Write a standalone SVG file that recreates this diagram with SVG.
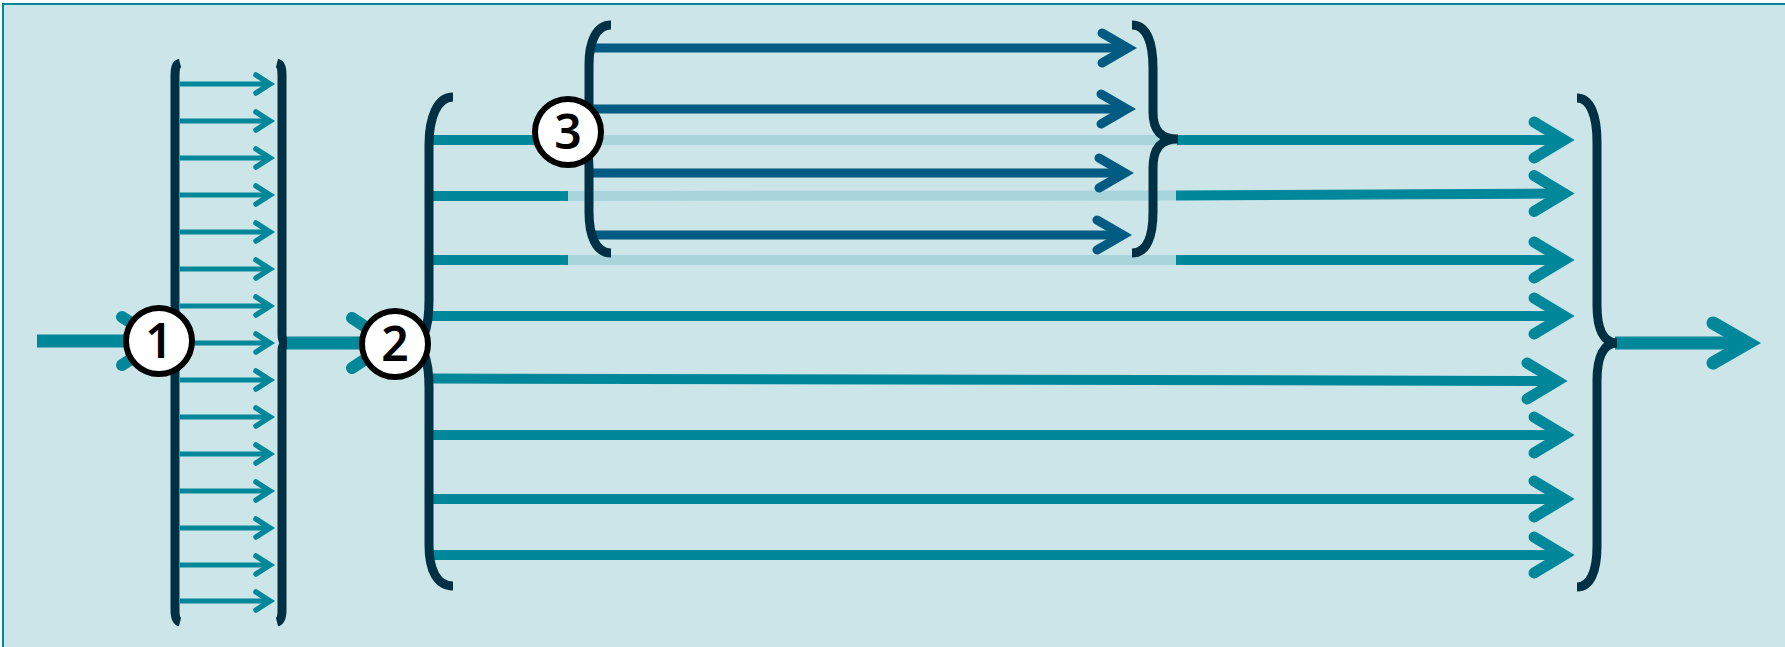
<svg xmlns="http://www.w3.org/2000/svg" width="1785" height="647" viewBox="0 0 1785 647">
<defs>
<style>
.bg{fill:#CCE5E8;stroke:#00889A;stroke-width:2}
.brace{fill:none;stroke:#003044;stroke-width:9}
.teal{fill:none;stroke:#00889A;stroke-linecap:butt}
.thin{stroke-width:5}
.main{stroke-width:10}
.thick{stroke-width:13}
.light{fill:none;stroke:#A8D5DC;stroke-width:10}
.blue{fill:none;stroke:#005B82;stroke-width:9}
.head{fill:none;stroke-linecap:round;stroke-linejoin:miter;stroke-miterlimit:10}
.ht{stroke:#00889A}
.hb{stroke:#005B82}
.circ{fill:#FFFFFF;stroke:#000000;stroke-width:6}
.lbl{font-family:"Noto Sans","Open Sans","Liberation Sans",sans-serif;font-weight:600;font-size:48px;fill:#000000;text-anchor:middle}
</style>
</defs>
<rect class="bg" x="3" y="4" width="1800" height="700"/>

<g id="connectors">
  <line class="teal thick" x1="37" y1="341" x2="150" y2="341"/>
  <polyline class="head ht" stroke-width="12" points="122,317 160,341 122,365"/>
  <g id="ladder-arrows" class="teal thin">
    <line x1="180" y1="84" x2="270" y2="84"/>
    <line x1="180" y1="121" x2="270" y2="121"/>
    <line x1="180" y1="158" x2="270" y2="158"/>
    <line x1="180" y1="195" x2="270" y2="195"/>
    <line x1="180" y1="232" x2="270" y2="232"/>
    <line x1="180" y1="269" x2="270" y2="269"/>
    <line x1="180" y1="306" x2="270" y2="306"/>
    <line x1="180" y1="343" x2="270" y2="343"/>
    <line x1="180" y1="380" x2="270" y2="380"/>
    <line x1="180" y1="417" x2="270" y2="417"/>
    <line x1="180" y1="454" x2="270" y2="454"/>
    <line x1="180" y1="491" x2="270" y2="491"/>
    <line x1="180" y1="528" x2="270" y2="528"/>
    <line x1="180" y1="565" x2="270" y2="565"/>
    <line x1="180" y1="601" x2="270" y2="601"/>
  </g>
  <g class="head ht" stroke-width="5.5">
    <polyline points="256,75 270,84 256,93"/>
    <polyline points="256,112 270,121 256,130"/>
    <polyline points="256,149 270,158 256,167"/>
    <polyline points="256,186 270,195 256,204"/>
    <polyline points="256,223 270,232 256,241"/>
    <polyline points="256,260 270,269 256,278"/>
    <polyline points="256,297 270,306 256,315"/>
    <polyline points="256,334 270,343 256,352"/>
    <polyline points="256,371 270,380 256,389"/>
    <polyline points="256,408 270,417 256,426"/>
    <polyline points="256,445 270,454 256,463"/>
    <polyline points="256,482 270,491 256,500"/>
    <polyline points="256,519 270,528 256,537"/>
    <polyline points="256,556 270,565 256,574"/>
    <polyline points="256,592 270,601 256,610"/>
  </g>
  <line class="teal thick" x1="285" y1="343" x2="380" y2="343"/>
  <polyline class="head ht" stroke-width="12" points="352,318 390,343 352,368"/>

  <line class="light" x1="568" y1="140" x2="1178" y2="140"/>
  <line class="light" x1="568" y1="196" x2="1176" y2="195.5"/>
  <line class="light" x1="568" y1="260" x2="1176" y2="260"/>

  <line class="teal main" x1="432" y1="140" x2="568" y2="140"/>
  <line class="teal main" x1="432" y1="196" x2="568" y2="196"/>
  <line class="teal main" x1="432" y1="260" x2="568" y2="260"/>
  <line class="teal main" x1="1177" y1="140" x2="1564" y2="140"/>
  <line class="teal main" x1="1176" y1="195.5" x2="1564" y2="193.5"/>
  <line class="teal main" x1="1176" y1="260" x2="1564" y2="260"/>
  <line class="teal main" x1="432" y1="316" x2="1564" y2="316"/>
  <line class="teal main" x1="432" y1="378.5" x2="1557" y2="381"/>
  <line class="teal main" x1="432" y1="435" x2="1564" y2="435"/>
  <line class="teal main" x1="432" y1="499" x2="1564" y2="499"/>
  <line class="teal main" x1="432" y1="555" x2="1564" y2="555"/>
  <g class="head ht" stroke-width="11">
    <polyline points="1534,122 1564,140 1534,158"/>
    <polyline points="1534,175.5 1564,193.5 1534,211.5"/>
    <polyline points="1534,242 1564,260 1534,278"/>
    <polyline points="1534,298 1564,316 1534,334"/>
    <polyline points="1527,363 1557,381 1527,399"/>
    <polyline points="1534,417 1564,435 1534,453"/>
    <polyline points="1534,481 1564,499 1534,517"/>
    <polyline points="1534,537 1564,555 1534,573"/>
  </g>

  <line class="blue" x1="592" y1="48" x2="1128" y2="48"/>
  <line class="blue" x1="592" y1="109" x2="1127" y2="109"/>
  <line class="blue" x1="592" y1="173" x2="1125" y2="173"/>
  <line class="blue" x1="592" y1="235" x2="1123" y2="235"/>
  <g class="head hb" stroke-width="9">
    <polyline points="1102,33 1128,48 1102,63"/>
    <polyline points="1101,94 1127,109 1101,124"/>
    <polyline points="1099,158 1125,173 1099,188"/>
    <polyline points="1097,220 1123,235 1097,250"/>
  </g>

  <line class="teal thick" x1="1615" y1="343" x2="1745" y2="343"/>
  <polyline class="head ht" stroke-width="13" points="1713,323 1748,343 1713,363"/>
</g>

<g id="ladder-left">
  <path class="brace" d="M180,63 C176,64 175,68 175,76 L175,610 C175,617 176,621 180,622"/>
</g>
<g id="ladder-right">
  <path class="brace" d="M277,63 C281,64 282,68 282,76 L282,334 C282,340 283,343 287,343 C283,343 282,346 282,352 L282,610 C282,617 281,621 277,622"/>
</g>

<g id="brace-2">
  <path class="brace" d="M453,97 C437,97 429,118 429,145 L429,300 C429,326 424,344 412,344 C424,344 429,362 429,388 L429,545 C429,570 437,586 453,586"/>
</g>
<g id="brace-3-in">
  <path class="brace" d="M611,25 C596,25 589,42 589,65 L589,112 C589,130 585,140 575,140 C585,140 589,150 589,168 L589,212 C589,236 596,253 611,253"/>
</g>
<g id="brace-3-out">
  <path class="brace" d="M1132,25 C1147,25 1153,43 1153,68 L1153,112 C1153,130 1160,139 1178,139 C1160,139 1153,149 1153,168 L1153,212 C1153,236 1147,253 1132,253"/>
</g>
<g id="brace-out">
  <path class="brace" d="M1577,98 C1590,98 1597,115 1597,142 L1597,305 C1597,330 1604,343 1617,343 C1604,343 1597,356 1597,381 L1597,546 C1597,572 1590,587 1577,587"/>
</g>

<g id="node-1">
  <circle class="circ" cx="159" cy="341" r="33"/>
  <text class="lbl" x="159" y="358">1</text>
</g>
<g id="node-2">
  <circle class="circ" cx="395" cy="344" r="33"/>
  <text class="lbl" x="395" y="361">2</text>
</g>
<g id="node-3">
  <circle class="circ" cx="568" cy="132" r="33"/>
  <text class="lbl" x="568" y="149">3</text>
</g>
</svg>
